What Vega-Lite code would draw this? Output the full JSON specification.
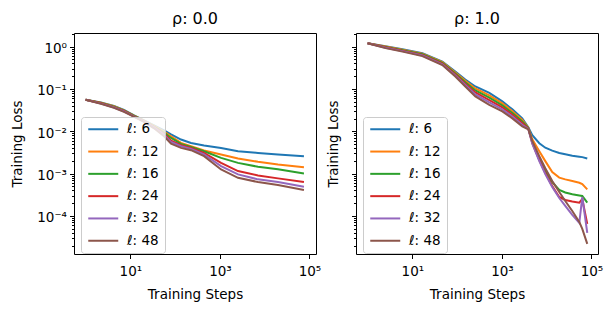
{
  "$schema": "https://vega.github.io/schema/vega-lite/v6.json",
  "padding": {"left": 9, "top": 10, "right": 5, "bottom": 5},
  "config": {
    "font": "DejaVu Sans",
    "view": {"stroke": "black", "strokeWidth": 1},
    "axis": {"grid": false, "domain": false, "labelFontSize": 13.5, "titleFontSize": 13.5, "titleFontWeight": "normal", "labelColor": "black", "titleColor": "black", "tickColor": "black", "tickWidth": 1},
    "axisX": {"titleFontWeight": "normal"},
    "axisY": {"titleFontWeight": "normal"},
    "title": {"fontSize": 16, "fontWeight": "normal", "color": "black", "anchor": "middle", "frame": "group", "offset": 6}
  },
  "data": {"values": [
    {"rho":0,"ell":6,"step":1,"loss":0.0557},{"rho":0,"ell":6,"step":2.2,"loss":0.0481},{"rho":0,"ell":6,"step":4.3,"loss":0.0398},{"rho":0,"ell":6,"step":7.2,"loss":0.0321},{"rho":0,"ell":6,"step":12.1,"loss":0.0238},{"rho":0,"ell":6,"step":20.2,"loss":0.01815},{"rho":0,"ell":6,"step":33.8,"loss":0.01384},{"rho":0,"ell":6,"step":56.5,"loss":0.01056},{"rho":0,"ell":6,"step":81,"loss":0.0085},{"rho":0,"ell":6,"step":135,"loss":0.00638},{"rho":0,"ell":6,"step":226,"loss":0.00531},{"rho":0,"ell":6,"step":442,"loss":0.00461},{"rho":0,"ell":6,"step":1059,"loss":0.00405},{"rho":0,"ell":6,"step":2535,"loss":0.00338},{"rho":0,"ell":6,"step":7080,"loss":0.00308},{"rho":0,"ell":6,"step":19800,"loss":0.00283},{"rho":0,"ell":6,"step":75300,"loss":0.00258},
    {"rho":0,"ell":12,"step":1,"loss":0.0557},{"rho":0,"ell":12,"step":2.2,"loss":0.0473},{"rho":0,"ell":12,"step":4.3,"loss":0.039},{"rho":0,"ell":12,"step":7.2,"loss":0.0313},{"rho":0,"ell":12,"step":12.1,"loss":0.0234},{"rho":0,"ell":12,"step":20.2,"loss":0.01787},{"rho":0,"ell":12,"step":33.8,"loss":0.0134},{"rho":0,"ell":12,"step":56.5,"loss":0.00989},{"rho":0,"ell":12,"step":81,"loss":0.00763},{"rho":0,"ell":12,"step":135,"loss":0.00531},{"rho":0,"ell":12,"step":226,"loss":0.00444},{"rho":0,"ell":12,"step":442,"loss":0.00352},{"rho":0,"ell":12,"step":1059,"loss":0.00283},{"rho":0,"ell":12,"step":2535,"loss":0.00228},{"rho":0,"ell":12,"step":7080,"loss":0.0019},{"rho":0,"ell":12,"step":19800,"loss":0.00164},{"rho":0,"ell":12,"step":75300,"loss":0.00142},
    {"rho":0,"ell":16,"step":1,"loss":0.0557},{"rho":0,"ell":16,"step":2.2,"loss":0.0466},{"rho":0,"ell":16,"step":4.3,"loss":0.0381},{"rho":0,"ell":16,"step":7.2,"loss":0.0307},{"rho":0,"ell":16,"step":12.1,"loss":0.023},{"rho":0,"ell":16,"step":20.2,"loss":0.01758},{"rho":0,"ell":16,"step":33.8,"loss":0.01297},{"rho":0,"ell":16,"step":56.5,"loss":0.00927},{"rho":0,"ell":16,"step":81,"loss":0.00695},{"rho":0,"ell":16,"step":135,"loss":0.00502},{"rho":0,"ell":16,"step":226,"loss":0.00427},{"rho":0,"ell":16,"step":442,"loss":0.00338},{"rho":0,"ell":16,"step":1059,"loss":0.00235},{"rho":0,"ell":16,"step":2535,"loss":0.00179},{"rho":0,"ell":16,"step":7080,"loss":0.00145},{"rho":0,"ell":16,"step":19800,"loss":0.00126},{"rho":0,"ell":16,"step":75300,"loss":0.00101},
    {"rho":0,"ell":24,"step":1,"loss":0.0557},{"rho":0,"ell":24,"step":2.2,"loss":0.0458},{"rho":0,"ell":24,"step":4.3,"loss":0.0373},{"rho":0,"ell":24,"step":7.2,"loss":0.0301},{"rho":0,"ell":24,"step":12.1,"loss":0.0226},{"rho":0,"ell":24,"step":20.2,"loss":0.0173},{"rho":0,"ell":24,"step":33.8,"loss":0.01256},{"rho":0,"ell":24,"step":56.5,"loss":0.00869},{"rho":0,"ell":24,"step":81,"loss":0.00604},{"rho":0,"ell":24,"step":135,"loss":0.00469},{"rho":0,"ell":24,"step":226,"loss":0.00405},{"rho":0,"ell":24,"step":442,"loss":0.00308},{"rho":0,"ell":24,"step":1059,"loss":0.00179},{"rho":0,"ell":24,"step":2535,"loss":0.001146},{"rho":0,"ell":24,"step":7080,"loss":0.000907},{"rho":0,"ell":24,"step":19800,"loss":0.000771},{"rho":0,"ell":24,"step":75300,"loss":0.000631},
    {"rho":0,"ell":32,"step":1,"loss":0.0557},{"rho":0,"ell":32,"step":2.2,"loss":0.0451},{"rho":0,"ell":32,"step":4.3,"loss":0.0365},{"rho":0,"ell":32,"step":7.2,"loss":0.0294},{"rho":0,"ell":32,"step":12.1,"loss":0.0223},{"rho":0,"ell":32,"step":20.2,"loss":0.01703},{"rho":0,"ell":32,"step":33.8,"loss":0.01216},{"rho":0,"ell":32,"step":56.5,"loss":0.00814},{"rho":0,"ell":32,"step":81,"loss":0.0056},{"rho":0,"ell":32,"step":135,"loss":0.00444},{"rho":0,"ell":32,"step":226,"loss":0.00384},{"rho":0,"ell":32,"step":442,"loss":0.00283},{"rho":0,"ell":32,"step":1059,"loss":0.0015},{"rho":0,"ell":32,"step":2535,"loss":0.000958},{"rho":0,"ell":32,"step":7080,"loss":0.000731},{"rho":0,"ell":32,"step":19800,"loss":0.000631},{"rho":0,"ell":32,"step":75300,"loss":0.000489},
    {"rho":0,"ell":48,"step":1,"loss":0.0557},{"rho":0,"ell":48,"step":2.2,"loss":0.0444},{"rho":0,"ell":48,"step":4.3,"loss":0.0357},{"rho":0,"ell":48,"step":7.2,"loss":0.0288},{"rho":0,"ell":48,"step":12.1,"loss":0.0219},{"rho":0,"ell":48,"step":20.2,"loss":0.01675},{"rho":0,"ell":48,"step":33.8,"loss":0.01177},{"rho":0,"ell":48,"step":56.5,"loss":0.00763},{"rho":0,"ell":48,"step":81,"loss":0.00508},{"rho":0,"ell":48,"step":135,"loss":0.00405},{"rho":0,"ell":48,"step":226,"loss":0.00357},{"rho":0,"ell":48,"step":442,"loss":0.00258},{"rho":0,"ell":48,"step":1059,"loss":0.001256},{"rho":0,"ell":48,"step":2535,"loss":0.000797},{"rho":0,"ell":48,"step":7080,"loss":0.000631},{"rho":0,"ell":48,"step":19800,"loss":0.000536},{"rho":0,"ell":48,"step":75300,"loss":0.000409},
    {"rho":1,"ell":6,"step":1,"loss":1.197},{"rho":1,"ell":6,"step":2.5,"loss":1.028},{"rho":1,"ell":6,"step":6,"loss":0.873},{"rho":1,"ell":6,"step":16.7,"loss":0.703},{"rho":1,"ell":6,"step":46.7,"loss":0.444},{"rho":1,"ell":6,"step":91,"loss":0.258},{"rho":1,"ell":6,"step":152,"loss":0.1676},{"rho":1,"ell":6,"step":255,"loss":0.1146},{"rho":1,"ell":6,"step":523,"loss":0.0805},{"rho":1,"ell":6,"step":1020,"loss":0.0508},{"rho":1,"ell":6,"step":1710,"loss":0.033},{"rho":1,"ell":6,"step":2850,"loss":0.0202},{"rho":1,"ell":6,"step":3880,"loss":0.01242},{"rho":1,"ell":6,"step":4770,"loss":0.00805},{"rho":1,"ell":6,"step":6840,"loss":0.00522},{"rho":1,"ell":6,"step":9310,"loss":0.00409},{"rho":1,"ell":6,"step":13300,"loss":0.00348},{"rho":1,"ell":6,"step":19100,"loss":0.00308},{"rho":1,"ell":6,"step":26000,"loss":0.00288},{"rho":1,"ell":6,"step":37300,"loss":0.00265},{"rho":1,"ell":6,"step":53500,"loss":0.00251},{"rho":1,"ell":6,"step":62400,"loss":0.00245},{"rho":1,"ell":6,"step":80600,"loss":0.00228},
    {"rho":1,"ell":12,"step":1,"loss":1.197},{"rho":1,"ell":12,"step":2.5,"loss":1.005},{"rho":1,"ell":12,"step":6,"loss":0.849},{"rho":1,"ell":12,"step":16.7,"loss":0.681},{"rho":1,"ell":12,"step":46.7,"loss":0.428},{"rho":1,"ell":12,"step":91,"loss":0.2443},{"rho":1,"ell":12,"step":152,"loss":0.1553},{"rho":1,"ell":12,"step":255,"loss":0.1028},{"rho":1,"ell":12,"step":523,"loss":0.0706},{"rho":1,"ell":12,"step":1020,"loss":0.0456},{"rho":1,"ell":12,"step":1710,"loss":0.0299},{"rho":1,"ell":12,"step":2850,"loss":0.01853},{"rho":1,"ell":12,"step":3880,"loss":0.01216},{"rho":1,"ell":12,"step":4770,"loss":0.00648},{"rho":1,"ell":12,"step":6840,"loss":0.00338},{"rho":1,"ell":12,"step":9310,"loss":0.00197},{"rho":1,"ell":12,"step":13300,"loss":0.001084},{"rho":1,"ell":12,"step":19100,"loss":0.000805},{"rho":1,"ell":12,"step":26000,"loss":0.000731},{"rho":1,"ell":12,"step":37300,"loss":0.000667},{"rho":1,"ell":12,"step":53500,"loss":0.000608},{"rho":1,"ell":12,"step":62400,"loss":0.000566},{"rho":1,"ell":12,"step":80600,"loss":0.000425},
    {"rho":1,"ell":16,"step":1,"loss":1.197},{"rho":1,"ell":16,"step":2.5,"loss":0.984},{"rho":1,"ell":16,"step":6,"loss":0.828},{"rho":1,"ell":16,"step":16.7,"loss":0.659},{"rho":1,"ell":16,"step":46.7,"loss":0.411},{"rho":1,"ell":16,"step":91,"loss":0.2317},{"rho":1,"ell":16,"step":152,"loss":0.1439},{"rho":1,"ell":16,"step":255,"loss":0.0923},{"rho":1,"ell":16,"step":523,"loss":0.0621},{"rho":1,"ell":16,"step":1020,"loss":0.0409},{"rho":1,"ell":16,"step":1710,"loss":0.0271},{"rho":1,"ell":16,"step":2850,"loss":0.01702},{"rho":1,"ell":16,"step":3880,"loss":0.01189},{"rho":1,"ell":16,"step":4770,"loss":0.00551},{"rho":1,"ell":16,"step":6840,"loss":0.00219},{"rho":1,"ell":16,"step":9310,"loss":0.001146},{"rho":1,"ell":16,"step":13300,"loss":0.000631},{"rho":1,"ell":16,"step":19100,"loss":0.000409},{"rho":1,"ell":16,"step":26000,"loss":0.000357},{"rho":1,"ell":16,"step":37300,"loss":0.000324},{"rho":1,"ell":16,"step":53500,"loss":0.000304},{"rho":1,"ell":16,"step":62400,"loss":0.000296},{"rho":1,"ell":16,"step":80600,"loss":0.000206},
    {"rho":1,"ell":24,"step":1,"loss":1.197},{"rho":1,"ell":24,"step":2.5,"loss":0.964},{"rho":1,"ell":24,"step":6,"loss":0.805},{"rho":1,"ell":24,"step":16.7,"loss":0.638},{"rho":1,"ell":24,"step":46.7,"loss":0.396},{"rho":1,"ell":24,"step":91,"loss":0.2193},{"rho":1,"ell":24,"step":152,"loss":0.1334},{"rho":1,"ell":24,"step":255,"loss":0.0828},{"rho":1,"ell":24,"step":523,"loss":0.0545},{"rho":1,"ell":24,"step":1020,"loss":0.0367},{"rho":1,"ell":24,"step":1710,"loss":0.0246},{"rho":1,"ell":24,"step":2850,"loss":0.0156},{"rho":1,"ell":24,"step":3880,"loss":0.01164},{"rho":1,"ell":24,"step":4770,"loss":0.00522},{"rho":1,"ell":24,"step":6840,"loss":0.00208},{"rho":1,"ell":24,"step":9310,"loss":0.001028},{"rho":1,"ell":24,"step":13300,"loss":0.000508},{"rho":1,"ell":24,"step":19100,"loss":0.00028},{"rho":1,"ell":24,"step":26000,"loss":0.000238},{"rho":1,"ell":24,"step":37300,"loss":0.000219},{"rho":1,"ell":24,"step":53500,"loss":0.000206},{"rho":1,"ell":24,"step":62400,"loss":0.000251},{"rho":1,"ell":24,"step":80600,"loss":0.0000649},
    {"rho":1,"ell":32,"step":1,"loss":1.197},{"rho":1,"ell":32,"step":2.5,"loss":0.942},{"rho":1,"ell":32,"step":6,"loss":0.783},{"rho":1,"ell":32,"step":16.7,"loss":0.618},{"rho":1,"ell":32,"step":46.7,"loss":0.381},{"rho":1,"ell":32,"step":91,"loss":0.208},{"rho":1,"ell":32,"step":152,"loss":0.1236},{"rho":1,"ell":32,"step":255,"loss":0.0743},{"rho":1,"ell":32,"step":523,"loss":0.0479},{"rho":1,"ell":32,"step":1020,"loss":0.033},{"rho":1,"ell":32,"step":1710,"loss":0.0223},{"rho":1,"ell":32,"step":2850,"loss":0.01429},{"rho":1,"ell":32,"step":3880,"loss":0.01138},{"rho":1,"ell":32,"step":4770,"loss":0.00508},{"rho":1,"ell":32,"step":6840,"loss":0.00197},{"rho":1,"ell":32,"step":9310,"loss":0.000973},{"rho":1,"ell":32,"step":13300,"loss":0.000481},{"rho":1,"ell":32,"step":19100,"loss":0.000265},{"rho":1,"ell":32,"step":26000,"loss":0.000172},{"rho":1,"ell":32,"step":37300,"loss":0.000106},{"rho":1,"ell":32,"step":53500,"loss":0.0000684},{"rho":1,"ell":32,"step":62400,"loss":0.00028},{"rho":1,"ell":32,"step":80600,"loss":0.0000398},
    {"rho":1,"ell":48,"step":1,"loss":1.197},{"rho":1,"ell":48,"step":2.5,"loss":0.923},{"rho":1,"ell":48,"step":6,"loss":0.762},{"rho":1,"ell":48,"step":16.7,"loss":0.597},{"rho":1,"ell":48,"step":46.7,"loss":0.367},{"rho":1,"ell":48,"step":91,"loss":0.1968},{"rho":1,"ell":48,"step":152,"loss":0.1146},{"rho":1,"ell":48,"step":255,"loss":0.0667},{"rho":1,"ell":48,"step":523,"loss":0.0421},{"rho":1,"ell":48,"step":1020,"loss":0.0296},{"rho":1,"ell":48,"step":1710,"loss":0.0202},{"rho":1,"ell":48,"step":2850,"loss":0.01312},{"rho":1,"ell":48,"step":3880,"loss":0.01114},{"rho":1,"ell":48,"step":4770,"loss":0.00582},{"rho":1,"ell":48,"step":6840,"loss":0.00258},{"rho":1,"ell":48,"step":9310,"loss":0.001346},{"rho":1,"ell":48,"step":13300,"loss":0.000667},{"rho":1,"ell":48,"step":19100,"loss":0.000367},{"rho":1,"ell":48,"step":26000,"loss":0.000225},{"rho":1,"ell":48,"step":37300,"loss":0.0001312},{"rho":1,"ell":48,"step":53500,"loss":0.0000723},{"rho":1,"ell":48,"step":62400,"loss":0.0000494},{"rho":1,"ell":48,"step":80600,"loss":0.0000219}
  ]},
  "spacing": 4,
  "resolve": {"legend": {"color": "independent"}},
  "hconcat": [
    {
      "width": 242, "height": 221,
      "title": "ρ: 0.0",
      "transform": [{"filter": "datum.rho == 0"}],
      "mark": {"type": "line", "strokeWidth": 2, "clip": true},
      "encoding": {
        "x": {"field": "step", "type": "quantitative", "scale": {"type": "log", "domain": [0.55, 140000], "nice": false},
              "axis": {"title": "Training Steps", "titleFontWeight": "normal", "values": [10, 1000, 100000], "tickSize": 4.5, "labelPadding": 6, "titlePadding": 9,
                       "labelExpr": "datum.value == 10 ? '10¹' : datum.value == 1000 ? '10³' : '10⁵'"}},
        "y": {"field": "loss", "type": "quantitative", "scale": {"type": "log", "domain": [0.0000126, 2.1], "nice": false},
              "axis": {"title": "Training Loss",
                       "values": [0.00002,0.00003,0.00004,0.00005,0.00006,0.00007,0.00008,0.00009,0.0001,0.0002,0.0003,0.0004,0.0005,0.0006,0.0007,0.0008,0.0009,0.001,0.002,0.003,0.004,0.005,0.006,0.007,0.008,0.009,0.01,0.02,0.03,0.04,0.05,0.06,0.07,0.08,0.09,0.1,0.2,0.3,0.4,0.5,0.6,0.7,0.8,0.9,1,2],
                       "tickSize": {"condition": {"test": "abs(log(datum.value)/LN10 - round(log(datum.value)/LN10)) < 0.001", "value": 4.5}, "value": 2.5},
                       "labelPadding": 3, "labelOffset": 2, "minExtent": 40, "maxExtent": 40, "titlePadding": 10,
                       "labelExpr": "abs(log(datum.value)/LN10 - round(log(datum.value)/LN10)) < 0.001 ? ['10⁻⁴','10⁻³','10⁻²','10⁻¹','10⁰'][round(log(datum.value)/LN10)+4] : ''"}},
        "color": {"field": "ell", "type": "nominal",
                  "scale": {"domain": [6, 12, 16, 24, 32, 48], "range": ["#1f77b4", "#ff7f0e", "#2ca02c", "#d62728", "#9467bd", "#8c564b"]},
                  "legend": {"orient": "none", "legendX": 7, "legendY": 84, "title": null, "labelExpr": "'ℓ: ' + datum.label",
                             "symbolType": "M-1,0H5", "symbolSize": 100, "symbolStrokeWidth": 2, "labelOffset": 27, "rowPadding": 7.3, "padding": 5.5,
                             "strokeColor": "#cccccc", "fillColor": "rgba(255,255,255,0.8)", "cornerRadius": 3, "labelFontSize": 13.5, "labelColor": "black"}}
      }
    },
    {
      "width": 242, "height": 221,
      "title": "ρ: 1.0",
      "transform": [{"filter": "datum.rho == 1"}],
      "mark": {"type": "line", "strokeWidth": 2, "clip": true},
      "encoding": {
        "x": {"field": "step", "type": "quantitative", "scale": {"type": "log", "domain": [0.55, 140000], "nice": false},
              "axis": {"title": "Training Steps", "titleFontWeight": "normal", "values": [10, 1000, 100000], "tickSize": 4.5, "labelPadding": 6, "titlePadding": 9,
                       "labelExpr": "datum.value == 10 ? '10¹' : datum.value == 1000 ? '10³' : '10⁵'"}},
        "y": {"field": "loss", "type": "quantitative", "scale": {"type": "log", "domain": [0.0000126, 2.1], "nice": false},
              "axis": {"title": "Training Loss", "labels": false,
                       "values": [0.00002,0.00003,0.00004,0.00005,0.00006,0.00007,0.00008,0.00009,0.0001,0.0002,0.0003,0.0004,0.0005,0.0006,0.0007,0.0008,0.0009,0.001,0.002,0.003,0.004,0.005,0.006,0.007,0.008,0.009,0.01,0.02,0.03,0.04,0.05,0.06,0.07,0.08,0.09,0.1,0.2,0.3,0.4,0.5,0.6,0.7,0.8,0.9,1,2],
                       "tickSize": {"condition": {"test": "abs(log(datum.value)/LN10 - round(log(datum.value)/LN10)) < 0.001", "value": 4.5}, "value": 2.5},
                       "minExtent": 4.5, "maxExtent": 4.5, "titlePadding": 11}},
        "color": {"field": "ell", "type": "nominal",
                  "scale": {"domain": [6, 12, 16, 24, 32, 48], "range": ["#1f77b4", "#ff7f0e", "#2ca02c", "#d62728", "#9467bd", "#8c564b"]},
                  "legend": {"orient": "none", "legendX": 7, "legendY": 84, "title": null, "labelExpr": "'ℓ: ' + datum.label",
                             "symbolType": "M-1,0H5", "symbolSize": 100, "symbolStrokeWidth": 2, "labelOffset": 27, "rowPadding": 7.3, "padding": 5.5,
                             "strokeColor": "#cccccc", "fillColor": "rgba(255,255,255,0.8)", "cornerRadius": 3, "labelFontSize": 13.5, "labelColor": "black"}}
      }
    }
  ]
}
